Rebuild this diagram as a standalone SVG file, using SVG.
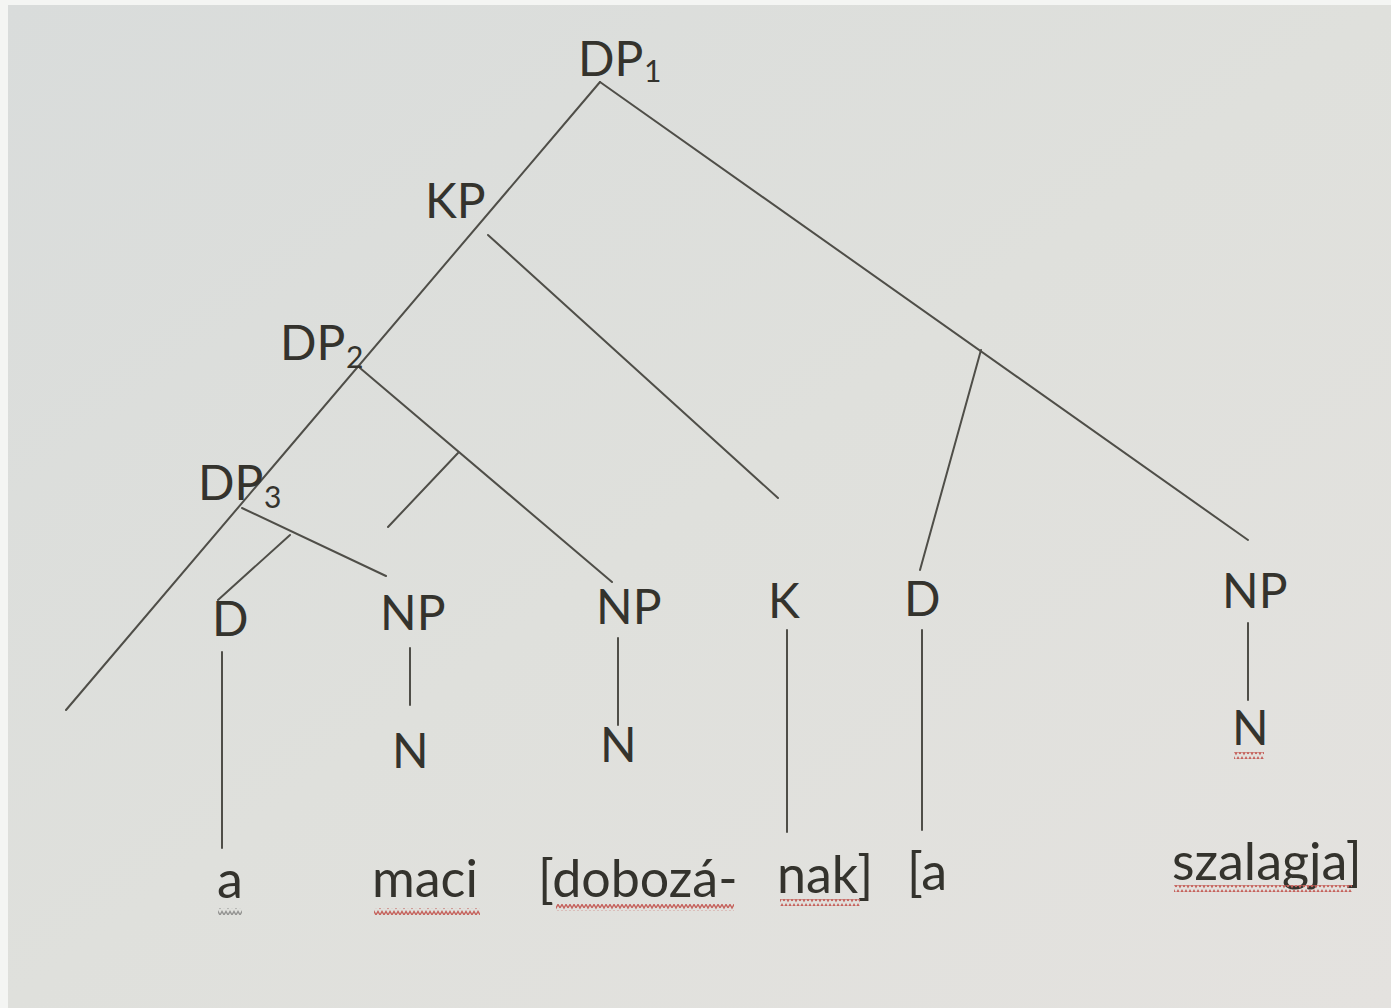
<svg xmlns="http://www.w3.org/2000/svg" width="1391" height="1008" viewBox="0 0 1391 1008">
<defs>
<linearGradient id="bg" x1="0" y1="0" x2="1" y2="1">
<stop offset="0" stop-color="#d9dcdb"/>
<stop offset="0.5" stop-color="#dfe0dc"/>
<stop offset="1" stop-color="#e4e2df"/>
</linearGradient>
<pattern id="wavy" width="8" height="7" patternUnits="userSpaceOnUse">
<path d="M0 5 L2 1.5 L4 5 L6 1.5 L8 5" fill="none" stroke="#c5625c" stroke-width="1.4"/>
</pattern>
<pattern id="wavyg" width="8" height="7" patternUnits="userSpaceOnUse">
<path d="M0 5 L2 1.5 L4 5 L6 1.5 L8 5" fill="none" stroke="#949492" stroke-width="1.4"/>
</pattern>
<style>
.lbl{font-family:Lato,"Liberation Sans",sans-serif;font-size:48px;fill:#34332d}
.sub{font-family:Lato,"Liberation Sans",sans-serif;font-size:30px;fill:#34332d}
.word{font-family:Lato,"Liberation Sans",sans-serif;font-size:52px;fill:#34332d}
.edge{stroke:#4f4e48;stroke-width:2;fill:none;stroke-linecap:round}
</style>
</defs>
<rect x="0" y="0" width="1391" height="1008" fill="#f4f5f3"/>
<rect x="8" y="5" width="1383" height="1003" fill="url(#bg)"/>

<g id="edges">
<line class="edge" x1="600" y1="82" x2="66" y2="710"/>
<line class="edge" x1="600" y1="82" x2="1248" y2="540"/>
<line class="edge" x1="488" y1="235" x2="778" y2="498"/>
<line class="edge" x1="360" y1="368" x2="612" y2="582"/>
<line class="edge" x1="458" y1="453" x2="388" y2="527"/>
<line class="edge" x1="242" y1="508" x2="386" y2="576"/>
<line class="edge" x1="290" y1="535" x2="218" y2="600"/>
<line class="edge" x1="981" y1="350" x2="920" y2="570"/>
<line class="edge" x1="222" y1="652" x2="222" y2="848"/>
<line class="edge" x1="410" y1="648" x2="410" y2="705"/>
<line class="edge" x1="618" y1="638" x2="618" y2="725"/>
<line class="edge" x1="787" y1="630" x2="787" y2="832"/>
<line class="edge" x1="922" y1="630" x2="922" y2="830"/>
<line class="edge" x1="1248" y1="623" x2="1248" y2="700"/>
</g>

<g id="DP1"><text class="lbl" x="578" y="76">DP</text><text class="sub" x="644" y="82">1</text></g>
<g id="KP"><text class="lbl" x="425" y="218">KP</text></g>
<g id="DP2"><text class="lbl" x="280" y="360">DP</text><text class="sub" x="346" y="368">2</text></g>
<g id="DP3"><text class="lbl" x="198" y="500">DP</text><text class="sub" x="264" y="508">3</text></g>
<g id="D1"><text class="lbl" x="212" y="636">D</text></g>
<g id="NP1"><text class="lbl" x="380" y="630">NP</text></g>
<g id="NP2"><text class="lbl" x="596" y="624">NP</text></g>
<g id="K"><text class="lbl" x="768" y="618">K</text></g>
<g id="D2"><text class="lbl" x="904" y="616">D</text></g>
<g id="NP3"><text class="lbl" x="1222" y="608">NP</text></g>
<g id="N1"><text class="lbl" x="392" y="768">N</text></g>
<g id="N2"><text class="lbl" x="600" y="762">N</text></g>
<g id="N3"><text class="lbl" x="1232" y="745">N</text><rect x="1234" y="752" width="30" height="7" fill="url(#wavy)"/></g>
<g id="w-a"><text class="word" x="217" y="898">a</text><rect x="218" y="908" width="24" height="7" fill="url(#wavyg)"/></g>
<g id="w-maci"><text class="word" x="372" y="897">maci</text><rect x="374" y="908" width="106" height="7" fill="url(#wavy)"/></g>
<g id="w-doboza"><text class="word" x="538" y="897">[dobozá-</text><rect x="556" y="904" width="178" height="7" fill="url(#wavy)"/></g>
<g id="w-nak"><text class="word" x="777" y="893">nak]</text><rect x="780" y="899" width="80" height="7" fill="url(#wavy)"/></g>
<g id="w-a2"><text class="word" x="907" y="890">[a</text></g>
<g id="w-szalagja"><text class="word" x="1172" y="880">szalagja]</text><rect x="1174" y="885" width="178" height="7" fill="url(#wavy)"/></g>
</svg>
